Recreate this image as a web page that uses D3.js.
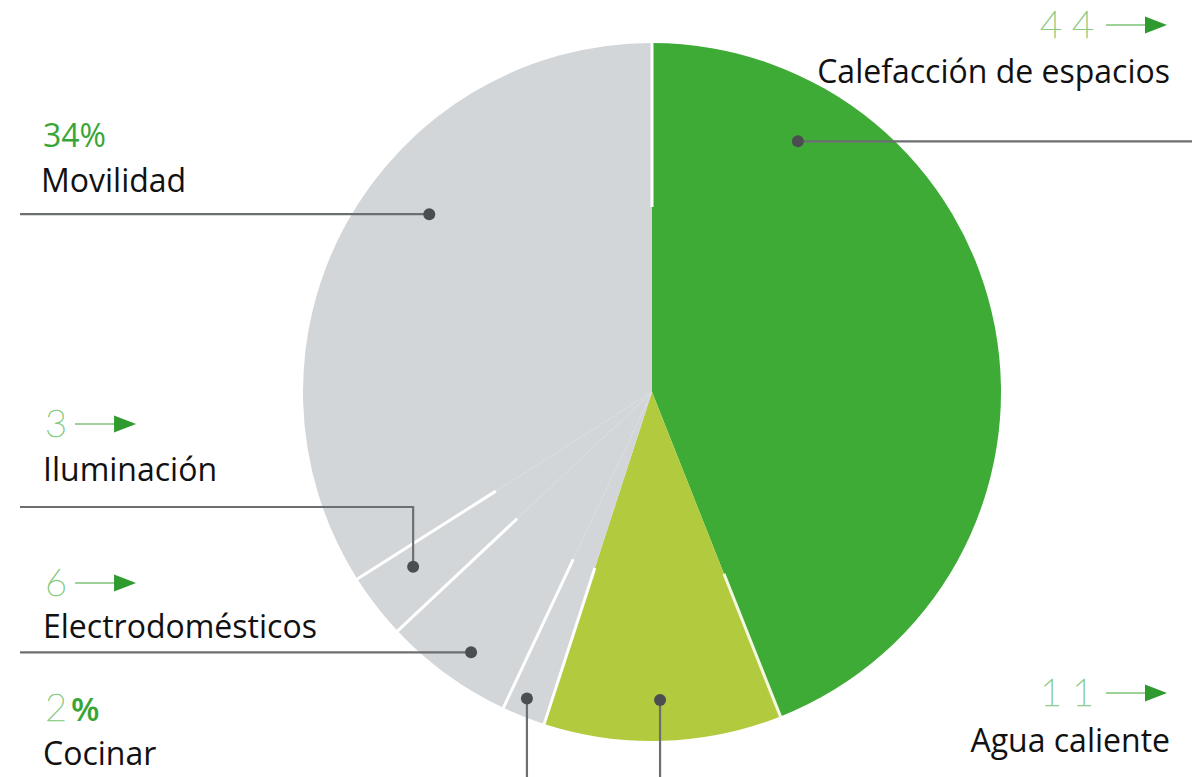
<!DOCTYPE html>
<html>
<head>
<meta charset="utf-8">
<script src="https://cdn.jsdelivr.net/npm/d3@7"></script>
<style>
  body { margin: 0; background: #fff; }
  svg { display: block; }
  .lbl { font-family: "Open Sans", sans-serif; fill: #111; }
  .thin { font-family: "Lato", sans-serif; font-weight: 100; fill: #86cb80; stroke: #86cb80; stroke-width: 0.7; }
</style>
</head>
<body>
<div id="chart"></div>
<script>
// data
const categories = ['Calefacción de espacios', 'Agua caliente', 'Cocinar', 'Electrodomésticos', 'Iluminación', 'Movilidad'];
const shares = [44, 11, 2, 6, 3, 34];
const valueLabels = ['44', '11', '2', '6', '3', '34%'];
const sliceColors = ['#3dab36', '#b1ca3e', '#d2d6d9', '#d2d6d9', '#d2d6d9', '#d2d6d9'];

// where each marker dot sits (degrees clockwise from top, px from centre)
// and how its leader runs: 'right', 'left', 'down' or 'elbow'
const markers = [
  { ang: 30.2,  r: 290, lead: 'right' },
  { ang: 178.5, r: 308, lead: 'down' },
  { ang: 202.2, r: 331, lead: 'down' },
  { ang: 214.8, r: 317, lead: 'left' },
  { ang: 233.8, r: 296, lead: 'elbow', elbowY: 507 },
  { ang: 308.6, r: 285, lead: 'left' }
];

const W = 1201, H = 777;
const cx = 652, cy = 392, R = 349;

const svg = d3.select('#chart').append('svg')
  .attr('width', W)
  .attr('height', H);

const pie = d3.pie().sort(null).value(d => d);
const arcs = pie(shares);
const arc = d3.arc().innerRadius(0).outerRadius(R);

const g = svg.append('g').attr('transform', `translate(${cx},${cy})`);

g.selectAll('path.slice')
  .data(arcs)
  .enter().append('path')
  .attr('class', 'slice')
  .attr('d', arc)
  .attr('fill', (d, i) => sliceColors[i]);

// partial white separators from the rim inwards
g.selectAll('line.sep')
  .data(arcs)
  .enter().append('line')
  .attr('class', 'sep')
  .each(function (d, i) {
    const a = d.startAngle;
    const p0 = d3.pointRadial(a, R * (i === 1 ? 0.56 : 0.53));
    const p1 = d3.pointRadial(a, R + 1);
    d3.select(this)
      .attr('x1', p0[0]).attr('y1', p0[1])
      .attr('x2', p1[0]).attr('y2', p1[1]);
  })
  .attr('stroke', (d, i) => i === 1 ? '#f4f8e0' : '#fff')
  .attr('stroke-width', 3);

// leaders + dots
const toRad = Math.PI / 180;
markers.forEach(m => {
  const p = d3.pointRadial(m.ang * toRad, m.r);
  const x = cx + p[0], y = cy + p[1];
  let pts;
  if (m.lead === 'right') pts = [[x, y], [1192, y]];
  else if (m.lead === 'left') pts = [[x, y], [20, y]];
  else if (m.lead === 'down') pts = [[x, y], [x, H]];
  else pts = [[x, y], [x, m.elbowY], [20, m.elbowY]];
  svg.append('path')
    .attr('d', d3.line()(pts))
    .attr('fill', 'none')
    .attr('stroke', '#6c6f72')
    .attr('stroke-width', 2.2);
  svg.append('circle')
    .attr('cx', x).attr('cy', y).attr('r', 6)
    .attr('fill', '#4b4e51');
});

// text blocks
const blocks = [
  { i: 0, x: 1170, anchor: 'end', numY: 38, nameY: 83, arrow: true },
  { i: 5, x: 43, anchor: 'start', numY: 147, nameY: 192, arrow: false, pct: true },
  { i: 4, x: 45, anchor: 'start', numY: 437, nameY: 481, arrow: true },
  { i: 3, x: 45, anchor: 'start', numY: 596, nameY: 638, arrow: true },
  { i: 2, x: 45, anchor: 'start', numY: 721, nameY: 765, arrow: false, pctTail: true },
  { i: 1, x: 1170, anchor: 'end', numY: 706, nameY: 752, arrow: true }
];

function drawArrow(x0, y) {
  svg.append('line')
    .attr('x1', x0).attr('y1', y).attr('x2', x0 + 40).attr('y2', y)
    .attr('stroke', '#7cc476').attr('stroke-width', 1.5);
  svg.append('path')
    .attr('d', d3.line()([[x0 + 39, y - 8.5], [x0 + 61, y], [x0 + 39, y + 8.5]]) + 'Z')
    .attr('fill', '#2f9b2f');
}

blocks.forEach(b => {
  const label = valueLabels[b.i];
  const nameX = b.anchor === 'start' ? b.x - 2 : b.x;
  svg.append('text')
    .attr('class', 'lbl')
    .attr('x', nameX).attr('y', b.nameY)
    .attr('text-anchor', b.anchor)
    .attr('font-size', 32)
    .text(categories[b.i]);

  if (b.pct) {
    svg.append('text')
      .attr('class', 'lbl')
      .attr('x', b.x).attr('y', b.numY)
      .attr('font-size', 32)
      .style('fill', '#3aa537')
      .text(label);
    return;
  }

  if (b.anchor === 'start') {
    const t = svg.append('text')
      .attr('class', 'thin')
      .attr('x', b.x).attr('y', b.numY)
      .attr('font-size', 38)
      .text(label);
    const w = t.node().getComputedTextLength();
    if (b.arrow) drawArrow(b.x + w + 8, b.numY - 13);
    if (b.pctTail) {
      svg.append('text')
        .attr('class', 'lbl')
        .attr('x', b.x + w + 4).attr('y', b.numY)
        .attr('font-size', 33)
        .attr('font-weight', 600)
        .style('fill', '#3aa537')
        .text('%');
    }
  } else {
    // right-aligned: arrow ends at b.x - 3, numbers before it
    const ax = b.x - 3 - 61;
    drawArrow(ax, b.numY - 13);
    svg.append('text')
      .attr('class', 'thin')
      .attr('x', ax - 2).attr('y', b.numY)
      .attr('text-anchor', 'end')
      .attr('font-size', 38)
      .attr('letter-spacing', 10)
      .text(label);
  }
});
</script>
</body>
</html>
